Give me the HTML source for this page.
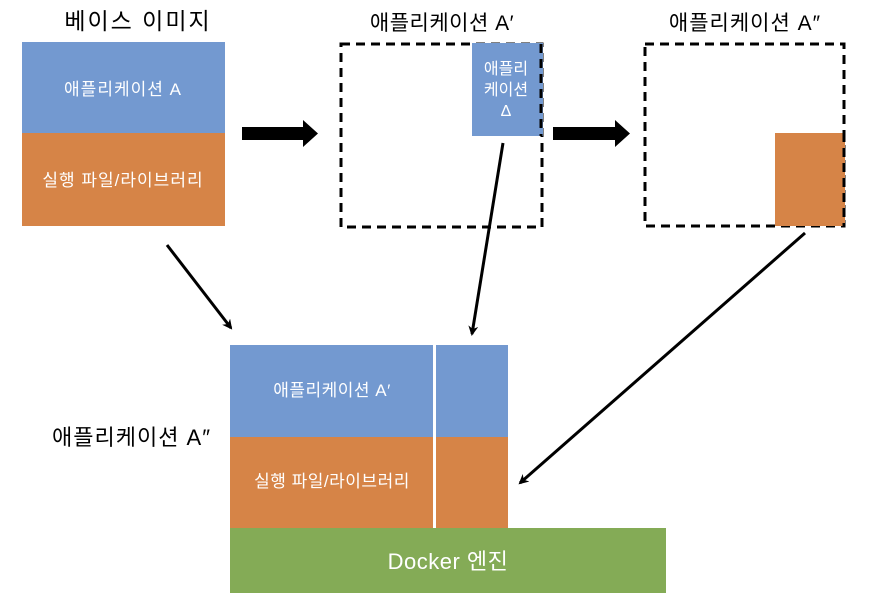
<!DOCTYPE html>
<html><head><meta charset="utf-8"><style>
html,body{margin:0;padding:0;background:#fff;}
svg{display:block;}
text{font-family:"Liberation Sans","Noto Sans CJK KR","NanumGothic",sans-serif;}
</style></head><body>
<svg width="886" height="606" viewBox="0 0 886 606" xmlns="http://www.w3.org/2000/svg">
<defs>
<marker id="ah" markerWidth="10" markerHeight="10" refX="8" refY="5" orient="auto" markerUnits="userSpaceOnUse" viewBox="0 0 10 10">
<path d="M0,0 L10,5 L0,10 L3,5 Z" fill="#000"/>
</marker>
</defs>
<rect width="886" height="606" fill="#fff"/>
<!-- base image -->
<text x="138" y="29" font-size="23" letter-spacing="2" text-anchor="middle" fill="#000">베이스 이미지</text>
<rect x="22" y="42" width="203" height="92" fill="#7399d0"/>
<rect x="22" y="133" width="203" height="93" fill="#d68447"/>
<text x="123" y="95" font-size="17" letter-spacing="1" text-anchor="middle" fill="#fff">애플리케이션 A</text>
<text x="123" y="186" font-size="17" letter-spacing="1" text-anchor="middle" fill="#fff">실행 파일/라이브러리</text>
<!-- thick arrows -->
<path d="M242,127 H303 V120 L318,133.5 L303,147 V140 H242 Z" fill="#000"/>
<path d="M553,127 H615 V120 L630,133.5 L615,147 V140 H553 Z" fill="#000"/>
<!-- A' -->
<text x="442" y="30" font-size="21" letter-spacing="0.5" text-anchor="middle" fill="#000">애플리케이션 A′</text>
<rect x="341" y="44" width="201" height="183" fill="none" stroke="#000" stroke-width="3" stroke-dasharray="9,6"/>
<rect x="472" y="43" width="71" height="93" fill="#7399d0"/>
<line x1="541" y1="44" x2="541" y2="136" stroke="#000" stroke-width="3" stroke-dasharray="9,6"/>
<text x="506" y="74" font-size="16" text-anchor="middle" fill="#fff">애플리</text>
<text x="506" y="95" font-size="16" text-anchor="middle" fill="#fff">케이션</text>
<text x="506" y="116" font-size="16" text-anchor="middle" fill="#fff">Δ</text>
<!-- A'' -->
<text x="745" y="30" font-size="21" letter-spacing="1" text-anchor="middle" fill="#000">애플리케이션 A″</text>
<rect x="645" y="44" width="199" height="182" fill="none" stroke="#000" stroke-width="3" stroke-dasharray="9,6"/>
<rect x="775" y="133" width="70" height="93" fill="#d68447"/>
<line x1="844" y1="133" x2="844" y2="226" stroke="#000" stroke-width="3" stroke-dasharray="9,6"/>
<!-- thin arrows -->
<line x1="167" y1="245" x2="231" y2="328" stroke="#000" stroke-width="3" marker-end="url(#ah)"/>
<line x1="503" y1="143" x2="472" y2="334" stroke="#000" stroke-width="3" marker-end="url(#ah)"/>
<line x1="805" y1="233" x2="520" y2="483" stroke="#000" stroke-width="3" marker-end="url(#ah)"/>
<!-- bottom stack -->
<text x="52" y="445" font-size="22" letter-spacing="1" fill="#000">애플리케이션 A″</text>
<rect x="230" y="345" width="278" height="92" fill="#7399d0"/>
<rect x="230" y="437" width="278" height="92" fill="#d68447"/>
<rect x="433" y="345" width="3" height="184" fill="#fff"/>
<rect x="230" y="528" width="436" height="65" fill="#84ab56"/>
<text x="332" y="396" font-size="17" letter-spacing="0.5" text-anchor="middle" fill="#fff">애플리케이션 A′</text>
<text x="332" y="487" font-size="17" letter-spacing="0.5" text-anchor="middle" fill="#fff">실행 파일/라이브러리</text>
<text x="448" y="569" font-size="22" letter-spacing="0.5" text-anchor="middle" fill="#fff">Docker 엔진</text>
</svg>
</body></html>
